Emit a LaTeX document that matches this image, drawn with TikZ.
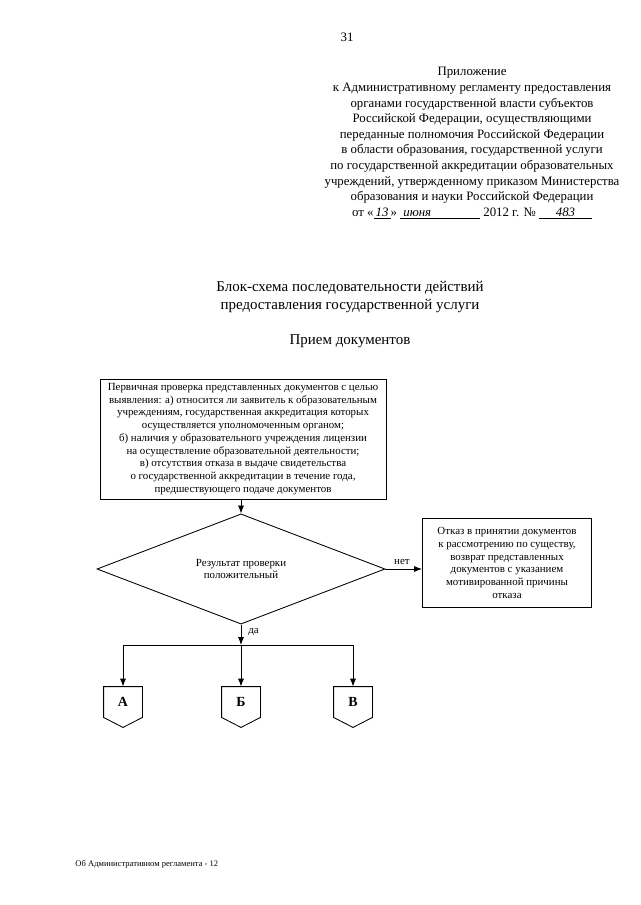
\documentclass[tikz,border=0pt]{standalone}
\usepackage{fontspec}
\setmainfont{Liberation Serif}
\usetikzlibrary{positioning,shapes,arrows,arrows.meta}
\newlength\pxunit
\setlength\pxunit{0.3285mm}

\begin{document}
\begin{tikzpicture}[
		x=\pxunit, y=-\pxunit,
		every node/.style={inner sep=0pt},
		line width=0.8pt,
		myarrow/.style={-{Latex[length=2.6mm,width=2mm]}},
		hdr/.style={align=center,font=\fontsize{12}{14.6}\selectfont},
		ttl/.style={align=center,font=\fontsize{14}{16.5}\selectfont},
		mybox/.style={draw,align=center,font=\fontsize{10.2}{11.9}\selectfont},
		mycond/.style={draw,diamond,align=center,font=\fontsize{10.2}{11.9}\selectfont},
		myconn/.style={minimum width=38\pxunit,minimum height=30\pxunit,font=\fontsize{13}{15}\selectfont\bfseries},
		mylabel/.style={font=\fontsize{10.2}{12}\selectfont}
		]
		\fill[white] (0,0) rectangle (640,905);
		\useasboundingbox (0,0) rectangle (640,905);
		% page head
		\node (page) at (347,37) {\fontsize{12}{14}\selectfont 31};
		\node[hdr] (appendix) at (472,143)
		{
			Приложение\\
			к Административному регламенту предоставления\\
			органами государственной власти субъектов\\
			Российской Федерации, осуществляющими\\
			переданные полномочия Российской Федерации\\
			в области образования, государственной услуги\\
			по государственной аккредитации образовательных\\
			учреждений, утвержденному приказом Министерства\\
			образования и науки Российской Федерации\\
			от «\underline{\makebox[17\pxunit]{\itshape 13}}» \underline{\makebox[80\pxunit][l]{\itshape\ июня}} 2012 г. № \underline{\makebox[53\pxunit]{\itshape 483}}
		};
		\node[ttl] (title) at (350,297)
		{
			Блок-схема последовательности действий\\
			предоставления государственной услуги
		};
		\node[ttl] (subtitle) at (350,341) {Прием документов};
		% flowchart
		\node[mybox,minimum width=286\pxunit,minimum height=120\pxunit] (check) at (243,439)
		{
			Первичная проверка представленных документов с целью\\
			выявления: а) относится ли заявитель к образовательным\\
			учреждениям, государственная аккредитация которых\\
			осуществляется уполномоченным органом;\\
			б) наличия у образовательного учреждения лицензии\\
			на осуществление образовательной деятельности;\\
			в) отсутствия отказа в выдаче свидетельства\\
			о государственной аккредитации в течение года,\\
			предшествующего подаче документов
		};
		\node[mycond,minimum width=288\pxunit,minimum height=79\pxunit] (result) at (241,569)
		{
			Результат проверки\\
			положительный
		};
		\node[mybox,minimum width=169\pxunit,minimum height=89\pxunit] (refuse) at (507,563)
		{
			Отказ в принятии документов\\
			к рассмотрению по существу,\\
			возврат представленных\\
			документов с указанием\\
			мотивированной причины\\
			отказа
		};
		\coordinate (split) at (241,645);
		\foreach \n/\t/\xx in {connA/А/123,connB/Б/241,connC/В/353}
		{
			\node[myconn] (\n) at (\xx,702) {\t};
			\draw (\n.north west) -- (\n.north east) -- (\n.south east)
				-- ([yshift=-10\pxunit]\n.south) -- (\n.south west) -- cycle;
		}
		\path
		(check.south -| result.north) edge[myarrow] (result.north)
		(result.east) edge[myarrow] node[mylabel,above=4\pxunit,pos=0.45] {нет} (result.east -| refuse.west)
		(result.south) edge[myarrow] node[mylabel,right=7\pxunit,pos=0.35] {да} (split);
		\draw (split -| connA.north) -- (split -| connC.north);
		\foreach \n in {connA,connB,connC}
			\draw[myarrow] (split -| \n.north) -- (\n.north);
		% page foot
		\node[anchor=west,font=\fontsize{8}{10}\selectfont] (foot) at (75,864) {Об Административном регламента - 12};
	\end{tikzpicture}
\end{document}
